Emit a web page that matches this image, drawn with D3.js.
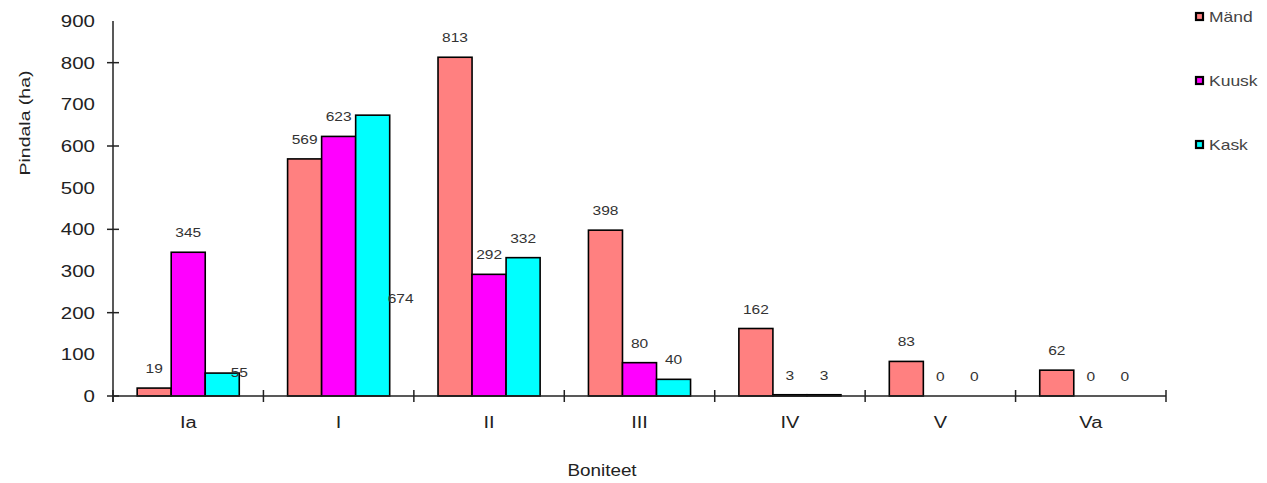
<!DOCTYPE html>
<html>
<head>
<meta charset="utf-8">
<script src="https://cdn.jsdelivr.net/npm/d3@7"></script>
<style>
  html, body { margin: 0; padding: 0; background: #fff; }
  svg { display: block; font-family: Arial, "Liberation Sans", sans-serif; }
</style>
</head>
<body>
<svg id="chart" width="1267" height="483"></svg>
<script>
const categories = ["Ia", "I", "II", "III", "IV", "V", "Va"];
const seriesNames = ["Mänd", "Kuusk", "Kask"];
const mand  = [19, 569, 813, 398, 162, 83, 62];
const kuusk = [345, 623, 292, 80, 3, 0, 0];
const kask  = [55, 674, 332, 40, 3, 0, 0];
const yTickValues = [0, 100, 200, 300, 400, 500, 600, 700, 800, 900];
const yMajorTicks = [0, 200, 400, 600, 800];
const colors = ["#FF8080", "#FF00FF", "#00FFFF"];
const yTitle = "Pindala (ha)";
const xTitle = "Boniteet";

const seriesValues = [mand, kuusk, kask];

(function draw() {
const svg = d3.select("#chart");
const mLeft = 113, mRight = 1166, mTop = 21, mBottom = 396;

const x0 = d3.scaleBand().domain(categories).range([mLeft, mRight]).paddingInner(0).paddingOuter(0);
const x1 = d3.scaleBand().domain(seriesNames).range([0, x0.bandwidth()]).paddingInner(0).paddingOuter(0.71);
const y = d3.scaleLinear().domain([0, 900]).range([mBottom, mTop]);

const textColor = "#222";

function stretchText(sel, sx) {
  sel.each(function() {
    const t = d3.select(this);
    const tx = +t.attr("data-x"), ty = +t.attr("data-y"), rot = +(t.attr("data-r") || 0);
    t.attr("transform", `translate(${tx},${ty}) rotate(${rot}) scale(${sx},1)`);
  });
}

// bars
const rows = [];
categories.forEach((c, i) => {
  seriesNames.forEach((s, j) => rows.push({ cat: c, ser: s, j, v: seriesValues[j][i] }));
});

svg.append("g").selectAll("rect").data(rows.filter(d => d.v > 0)).join("rect")
  .attr("x", d => x0(d.cat) + x1(d.ser))
  .attr("y", d => y(d.v))
  .attr("width", x1.bandwidth())
  .attr("height", d => y(0) - y(d.v))
  .attr("fill", d => colors[d.j])
  .attr("stroke", "#000")
  .attr("stroke-width", 1.6);

// value labels
const labelShift = { "Kask|Ia": [17, 19], "Kask|I": [28, 203] };
svg.append("g").selectAll("text").data(rows).join("text")
  .attr("data-x", d => {
    const s = labelShift[d.ser + "|" + d.cat];
    return x0(d.cat) + x1(d.ser) + x1.bandwidth() / 2 + (s ? s[0] : 0);
  })
  .attr("data-y", d => {
    const s = labelShift[d.ser + "|" + d.cat];
    return y(d.v) - 15 + (s ? s[1] : 0);
  })
  .attr("text-anchor", "middle")
  .attr("font-size", 13.5)
  .attr("fill", "#333")
  .text(d => d.v)
  .call(stretchText, 1.15);

// y axis
const axisG = svg.append("g");
axisG.append("line").attr("x1", mLeft).attr("x2", mLeft).attr("y1", mTop).attr("y2", mBottom + 6)
  .attr("stroke", textColor).attr("stroke-width", 1.5);
axisG.selectAll("line.ytick").data(yMajorTicks).join("line").attr("class", "ytick")
  .attr("x1", mLeft - 6).attr("x2", mLeft + 6)
  .attr("y1", d => y(d)).attr("y2", d => y(d))
  .attr("stroke", textColor).attr("stroke-width", 1.5);
axisG.selectAll("text.ylab").data(yTickValues).join("text").attr("class", "ylab")
  .attr("data-x", mLeft - 18).attr("data-y", d => y(d) + 6)
  .attr("text-anchor", "end").attr("font-size", 16).attr("fill", textColor)
  .text(d => d)
  .call(stretchText, 1.28);

// x axis
axisG.append("line").attr("x1", mLeft).attr("x2", mRight).attr("y1", mBottom).attr("y2", mBottom)
  .attr("stroke", textColor).attr("stroke-width", 1.5);
const boundaries = categories.map(c => x0(c)).concat([mRight]);
axisG.selectAll("line.xtick").data(boundaries).join("line").attr("class", "xtick")
  .attr("x1", d => d).attr("x2", d => d).attr("y1", mBottom - 6).attr("y2", mBottom + 6)
  .attr("stroke", textColor).attr("stroke-width", 1.5);
axisG.selectAll("text.xlab").data(categories).join("text").attr("class", "xlab")
  .attr("data-x", d => x0(d) + x0.bandwidth() / 2).attr("data-y", mBottom + 32)
  .attr("text-anchor", "middle").attr("font-size", 16).attr("fill", textColor)
  .text(d => d)
  .call(stretchText, 1.25);

// titles
svg.append("text").attr("data-x", 602).attr("data-y", 476)
  .attr("text-anchor", "middle").attr("font-size", 16).attr("fill", textColor)
  .text(xTitle).call(stretchText, 1.18);
svg.append("text").attr("data-x", 30).attr("data-y", 123).attr("data-r", -90)
  .attr("text-anchor", "middle").attr("font-size", 15).attr("fill", textColor)
  .text(yTitle).call(stretchText, 1.3);

// legend
const legend = svg.append("g").selectAll("g").data(seriesNames).join("g")
  .attr("transform", (d, i) => `translate(1195, ${16 + i * 64})`);
legend.append("rect").attr("x", 1).attr("y", -3).attr("width", 7).attr("height", 7)
  .attr("fill", (d, i) => colors[i]).attr("stroke", "#000").attr("stroke-width", 2.2);
legend.append("text").attr("data-x", 14).attr("data-y", 6)
  .attr("font-size", 14).attr("fill", "#444")
  .text(d => d).call(stretchText, 1.25);
})();
</script>
</body>
</html>
